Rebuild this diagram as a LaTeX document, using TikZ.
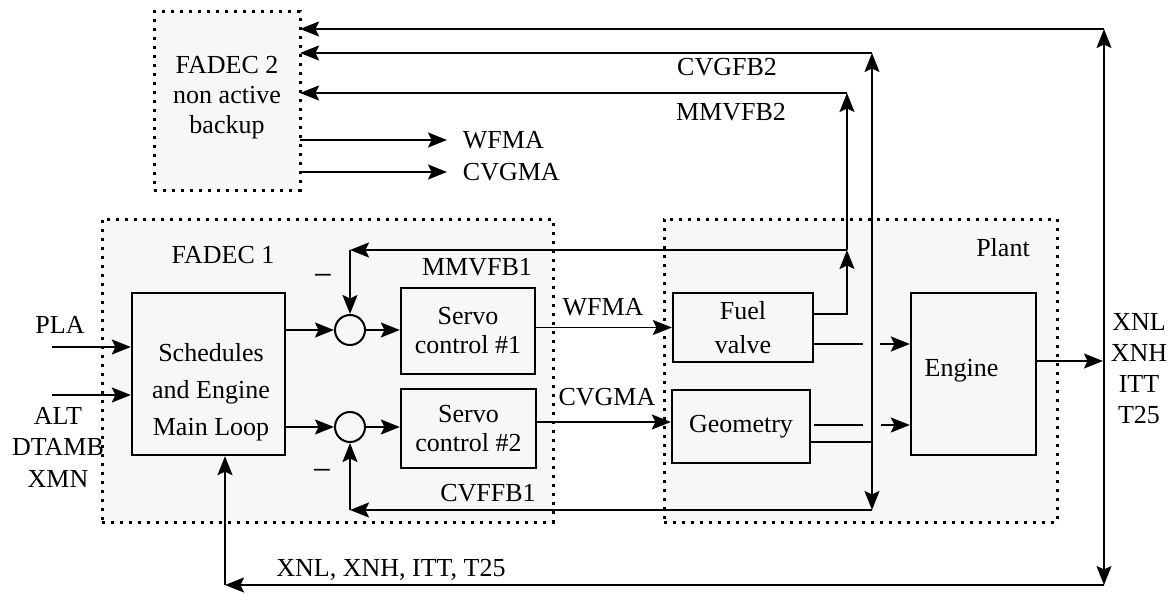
\documentclass[tikz,border=0pt]{standalone}
\usepackage{fontspec}
\setmainfont{Liberation Serif}
\usetikzlibrary{arrows.meta}
\definecolor{boxgray}{HTML}{F7F7F7}
\begin{document}
\begin{tikzpicture}[x=1pt,y=-1pt,
  font=\fontsize{26}{30}\selectfont,
  line width=1.9pt,
  arr/.style={-{Stealth[length=19pt,width=15pt,inset=3.5pt]}},
  dbl/.style={{Stealth[length=19pt,width=15pt,inset=3.5pt]}-{Stealth[length=19pt,width=15pt,inset=3.5pt]}},
  group/.style={draw, fill=boxgray, line width=3pt, dash pattern=on 3pt off 6pt, inner sep=0pt, outer sep=0pt},
  block/.style={draw, fill=boxgray, line width=2.3pt, inner sep=0pt, align=center},
  sum/.style={draw, circle, fill=boxgray, line width=2pt, minimum size=30pt, inner sep=0pt},
  lbl/.style={inner sep=0pt, align=center}]
\useasboundingbox (0,0) rectangle (1176,594);
% group boxes
\node[group, minimum width=146pt, minimum height=178pt] (fadec2) at (227,101) {};
\node[group, minimum width=451pt, minimum height=303pt] (fadec1) at (327.5,370.5) {};
\node[group, minimum width=393pt, minimum height=303pt] (plant) at (860.5,370.5) {};
\node[lbl, font=\fontsize{26}{30}\selectfont] (fadec2t) at (227,98) {FADEC 2\\non active\\backup};
% blocks
\node[block, minimum width=153pt, minimum height=162pt] (sched) at (208.5,374) {};
\node[lbl, font=\fontsize{26}{37}\selectfont] (schedt) at (211,392) {Schedules\\and Engine\\Main Loop};
\node[block, minimum width=134pt, minimum height=86pt, font=\fontsize{26}{29}\selectfont] (servo1) at (468,331) {Servo\\control \#1};
\node[block, minimum width=135pt, minimum height=79pt, font=\fontsize{26}{29}\selectfont] (servo2) at (468.5,428.5) {Servo\\control \#2};
\node[block, minimum width=140pt, minimum height=69pt, font=\fontsize{26}{34}\selectfont] (fuel) at (743,327.5) {Fuel\\valve};
\node[block, minimum width=138pt, minimum height=73pt] (geom) at (741,426.5) {Geometry};
\node[block, minimum width=125pt, minimum height=162pt] (engine) at (973.5,374) {};
\node[lbl] (enginet) at (961.5,371) {Engine};
\node[sum] (c1) at (350,330) {};
\node[sum] (c2) at (350,427) {};
% labels
\node[lbl] (lfadec1) at (223,255) {FADEC 1};
\node[lbl] (lmmvfb1) at (477,267) {MMVFB1};
\node[lbl] (lplant) at (1003,248) {Plant};
\node[lbl] (lcvgfb2) at (727,67) {CVGFB2};
\node[lbl] (lmmvfb2) at (731,112) {MMVFB2};
\node[lbl] (lcvffb1) at (488,493) {CVFFB1};
\node[lbl] (lwfma) at (603,307) {WFMA};
\node[lbl] (lcvgma) at (607,397) {CVGMA};
\node[lbl, anchor=west] (lwfma2) at (462,140) {WFMA};
\node[lbl, anchor=west] (lcvgma2) at (462,172) {CVGMA};
\node[lbl] (lpla) at (60,325) {PLA};
\node[lbl, font=\fontsize{26}{31.5}\selectfont] (lalt) at (58,447) {ALT\\DTAMB\\XMN};
\node[lbl, font=\fontsize{26}{31}\selectfont] (lout) at (1139,369) {XNL\\XNH\\ITT\\T25};
\node[lbl] (lbus) at (391,570) {XNL, XNH, ITT, T25};
\node[lbl, font=\fontsize{34}{34}\selectfont] (m1) at (323,280) {−};
\node[lbl, font=\fontsize{34}{34}\selectfont] (m2) at (322,475) {−};
% coordinates
\coordinate (pla) at (52,347);
\coordinate (altin) at (52,395);
\coordinate (cvgma) at (0,422);
\coordinate (j1) at (847,250);
\coordinate (j2) at (847,93);
\coordinate (fv1) at (847,314);
\coordinate (k1) at (350,250);
\coordinate (gap1a) at (863,344);
\coordinate (gap1b) at (880,344);
\coordinate (gap2a) at (863,425);
\coordinate (gap2s) at (814,425);
\coordinate (gap2b) at (881,425);
\coordinate (v2) at (872,442);
\coordinate (vt) at (872,53);
\coordinate (vb) at (872,510);
\coordinate (k2) at (350,510);
\coordinate (eo) at (1103,361);
\coordinate (ot) at (1104,29);
\coordinate (ob) at (1104,585);
\coordinate (k3) at (225,585);
\coordinate (w2) at (447,140);
\coordinate (c2o) at (447,172);
% connectors
\draw[arr] (pla) -- (pla -| sched.west);
\draw[arr] (altin) -- (altin -| sched.west);
\draw[arr] (c1.west -| sched.east) -- (c1.west);
\draw[arr] (c2.west -| sched.east) -- (c2.west);
\draw[arr] (c1.east) -- (c1.east -| servo1.west);
\draw[arr] (c2.east) -- (c2.east -| servo2.west);
\draw[arr] (servo1.east |- fuel.west) -- (fuel.west);
\draw[arr] (servo2.east |- cvgma) -- (geom.west |- cvgma);
\draw[arr] (fuel.east |- fv1) -- (fv1) -- (j1);
\draw[arr] (j1) -- (j2);
\draw[arr] (j2) -- (j2 -| fadec2.east);
\draw[arr] (j1) -- (k1);
\draw[arr] (k1) -- (c1.north);
\draw (fuel.east |- gap1a) -- (gap1a);
\draw[arr] (gap1b) -- (engine.west |- gap1b);
\draw (gap2s) -- (gap2a);
\draw[arr] (gap2b) -- (engine.west |- gap2b);
\draw (geom.east |- v2) -- (v2);
\draw[dbl] (vt) -- (vb);
\draw[arr] (vt) -- (vt -| fadec2.east);
\draw[arr] (vb) -- (k2);
\draw[arr] (k2) -- (c2.south);
\draw[arr] (engine.east |- eo) -- (eo);
\draw[dbl] (ot) -- (ob);
\draw[arr] (ot) -- (ot -| fadec2.east);
\draw[arr] (ob) -- (k3);
\draw[arr] (k3) -- (k3 |- sched.south);
\draw[arr] (w2 -| fadec2.east) -- (w2);
\draw[arr] (c2o -| fadec2.east) -- (c2o);
\end{tikzpicture}
\end{document}
